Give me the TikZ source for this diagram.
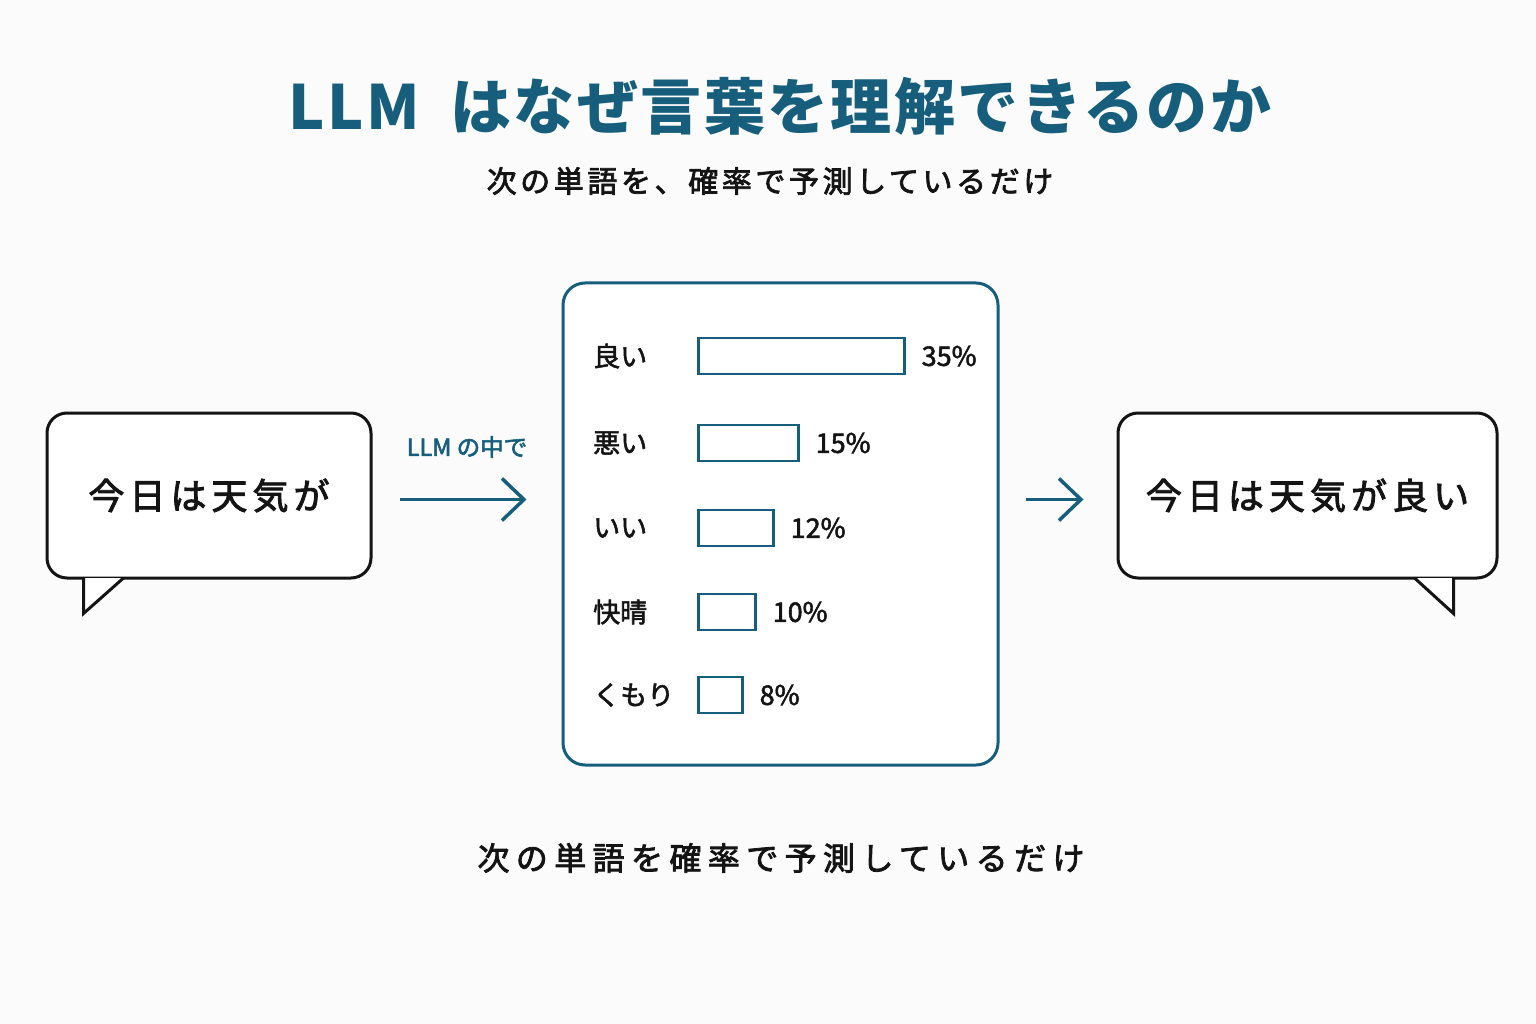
\documentclass[tikz,border=0pt]{standalone}
\usepackage{fontspec}
\usepackage{xcolor}
\usepackage{tikz}
\usetikzlibrary{arrows.meta,calc,positioning}
\setmainfont{Noto Sans CJK JP}[FakeBold=2]
\newfontfamily\headfont{Noto Sans CJK JP}[LetterSpace=4]
\newfontfamily\subfont{Noto Sans CJK JP}[LetterSpace=12,FakeBold=2.5]
\newfontfamily\bubblefont{Noto Sans CJK JP}[LetterSpace=14,FakeBold=2.5]
\newfontfamily\footfont{Noto Sans CJK JP}[LetterSpace=20,FakeBold=2.5]
\newfontfamily\tagfont{Noto Sans CJK JP}[FakeBold=2.5]
\definecolor{llmblue}{RGB}{22,94,124}
\definecolor{ink}{RGB}{20,20,20}
\definecolor{paper}{RGB}{251,251,251}
\tikzset{%
	headline/.style = {text=llmblue, inner sep=0pt, font=\headfont\fontsize{61}{68}\selectfont\bfseries},
	subline/.style  = {text=ink, inner sep=0pt, font=\subfont\fontsize{30}{34}\selectfont},
	footline/.style = {text=ink, inner sep=0pt, font=\footfont\fontsize{32}{36}\selectfont},
	bubble/.style   = {draw=ink, fill=white, line width=3pt, rounded corners=20pt, minimum height=165pt, inner sep=0pt, text=ink, font=\bubblefont\fontsize{36}{40}\selectfont},
	tail/.style     = {draw=ink, fill=white, line width=3pt},
	panel/.style    = {draw=llmblue, fill=white, line width=3pt, rounded corners=22pt, minimum width=435pt, minimum height=482pt},
	word/.style     = {anchor=west, inner sep=0pt, text=ink, font=\fontsize{27}{30}\selectfont},
	bar/.style      = {draw=llmblue, line width=2.5pt, minimum height=36pt, inner sep=0pt, anchor=west},
	pct/.style      = {inner sep=0pt, text=ink, font=\fontsize{27}{30}\selectfont},
	tag/.style      = {inner sep=0pt, text=llmblue, font=\tagfont\fontsize{23.5}{26}\selectfont},
	flow/.style     = {draw=llmblue, line width=3.5pt, -{Straight Barb[length=22pt,width=42pt]}},
}
\begin{document}
\begin{tikzpicture}[x=1pt,y=-1pt]
	\fill[paper] (0,0) rectangle (1536,1024);  % page

	\node[headline] (head) at (780,106) {LLM\hspace{14pt} はなぜ言葉を理解できるのか};
	\node[subline] (sub) at (770,181) {次の単語を、確率で予測しているだけ};

	% input bubble
	\node[bubble, minimum width=324pt] (inbub) at (209,495.5) {今日は天気が};
	\filldraw[tail] ([xshift=38pt,yshift=1.5pt]inbub.south west) -- ([xshift=38pt,yshift=-34pt]inbub.south west) -- ([xshift=78pt,yshift=1.5pt]inbub.south west);

	% probabilities
	\node[panel] (probs) at (780.5,524) {};
	\foreach \i/\w/\lab/\p/\y in {1/206/良い/35/356, 2/100/悪い/15/443, 3/75/いい/12/528, 4/57/快晴/10/612, 5/44/くもり/8/695} {
		\node[word] (word\i) at (593,\y) {\lab};
		\node[bar, minimum width=\w pt] (bar\i) at (697,\y) {};
		\node[pct, right=16pt of bar\i] (pct\i) {\p\%};
	}

	% output bubble
	\node[bubble, minimum width=379pt] (outbub) at (1307.5,495.5) {今日は天気が良い};
	\filldraw[tail] ([xshift=-84pt,yshift=1.5pt]outbub.south east) -- ([xshift=-45pt,yshift=-34pt]outbub.south east) -- ([xshift=-45pt,yshift=1.5pt]outbub.south east);

	\draw[flow, shorten <=27pt, shorten >=35pt] ([yshift=-4pt]inbub.east) -- ([yshift=-4pt]inbub.east -| probs.west) node[midway, above=40pt, tag] (inside) {LLM の中で};
	\draw[flow, shorten <=26pt, shorten >=33pt] ([yshift=-4pt]outbub.west -| probs.east) -- ([yshift=-4pt]outbub.west);

	\node[footline] (foot) at (781,858) {次の単語を確率で予測しているだけ};
\end{tikzpicture}
\end{document}
